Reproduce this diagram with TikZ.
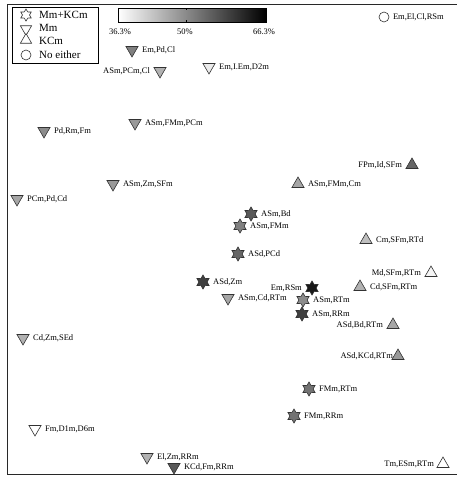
\documentclass[tikz,border=0pt]{standalone}
\usepackage{fontspec}
\setmainfont{Liberation Serif}
\usepackage{xcolor}
\usetikzlibrary{positioning, shapes.geometric}
\definecolor{framegray}{RGB}{40, 40, 40}
\definecolor{symbedge}{RGB}{50, 50, 50}

\tikzset{
  symb/.style={draw=symbedge, line width=0.6pt, inner sep=0pt},
  dntri/.style={symb, regular polygon, regular polygon sides=3, shape border rotate=180, minimum size=14pt},
  uptri/.style={symb, regular polygon, regular polygon sides=3, minimum size=14pt},
  hexstar/.style={symb, star, star points=6, star point ratio=1.7, minimum size=14pt},
  ring/.style={symb, circle, minimum size=10pt},
  lbl/.style={inner sep=0.5pt, font=\fontsize{8.5}{10}\selectfont},
  keytxt/.style={anchor=west, inner sep=0pt, font=\fontsize{11}{12}\selectfont},
}

\begin{document}
\begin{tikzpicture}[x=1pt, y=-1pt]
    \useasboundingbox (0,0) rectangle (457,482);
    % frame
    \draw[line width=1pt, framegray] (7,4) rectangle (459,474);
    % legend
    \draw[line width=0.8pt] (12,7) rectangle (98,63);
    \node[hexstar, fill=white, minimum size=12pt] (k1) at (26,15) {};
    \node[keytxt] (kt1) at (39,15) {Mm+KCm};
    \node[dntri, fill=white, minimum size=13pt] (k2) at (26,29) {};
    \node[keytxt] (kt2) at (39,28) {Mm};
    \node[uptri, fill=white, minimum size=13pt] (k3) at (26,40) {};
    \node[keytxt] (kt3) at (39,41) {KCm};
    \node[ring, fill=white] (k4) at (26,55) {};
    \node[keytxt] (kt4) at (39,55) {No either};
    % colour bar
    \shade[left color=white, right color=black] (118,8) rectangle (266,22);
    \draw[line width=0.6pt] (118,8) rectangle (266,22);
    \draw[line width=0.4pt] (186,8) -- (186,10) (186,22) -- (186,20);
    \node[lbl] (c1) at (120,32) {36.3\%};
    \node[lbl] (c2) at (185,32) {50\%};
    \node[lbl] (c3) at (264,32) {66.3\%};
    % points
    \node[dntri, fill=black!50] (p1) at (132,50) {};
    \node[lbl, right=5pt of p1] (t1) {Em,Pd,Cl};
    \node[dntri, fill=black!30] (p2) at (160,71) {};
    \node[lbl, left=5pt of p2] (t2) {ASm,PCm,Cl};
    \node[dntri, fill=black!8] (p3) at (209,67) {};
    \node[lbl, right=5pt of p3] (t3) {Em,I.Em,D2m};
    \node[ring, fill=white] (p4) at (384,17) {};
    \node[lbl, right=3pt of p4] (t4) {Em,El,Cl,RSm};
    \node[dntri, fill=black!45] (p5) at (44,131) {};
    \node[lbl, right=5pt of p5] (t5) {Pd,Rm,Fm};
    \node[dntri, fill=black!40] (p6) at (135,123) {};
    \node[lbl, right=5pt of p6] (t6) {ASm,FMm,PCm};
    \node[dntri, fill=black!40] (p7) at (113,184) {};
    \node[lbl, right=5pt of p7] (t7) {ASm,Zm,SFm};
    \node[dntri, fill=black!35] (p8) at (17,199) {};
    \node[lbl, right=5pt of p8] (t8) {PCm,Pd,Cd};
    \node[uptri, fill=black!60] (p9) at (412,165) {};
    \node[lbl, left=5pt of p9] (t9) {FPm,Id,SFm};
    \node[uptri, fill=black!35] (p10) at (298,184) {};
    \node[lbl, right=5pt of p10] (t10) {ASm,FMm,Cm};
    \node[hexstar, fill=black!65] (p11) at (251,214) {};
    \node[lbl, right=5pt of p11] (t11) {ASm,Bd};
    \node[hexstar, fill=black!50] (p12) at (240,226) {};
    \node[lbl, right=5pt of p12] (t12) {ASm,FMm};
    \node[hexstar, fill=black!60] (p13) at (238,254) {};
    \node[lbl, right=5pt of p13] (t13) {ASd,PCd};
    \node[uptri, fill=black!25] (p14) at (366,240) {};
    \node[lbl, right=5pt of p14] (t14) {Cm,SFm,RTd};
    \node[uptri, fill=black!4] (p15) at (431,273) {};
    \node[lbl, left=5pt of p15] (t15) {Md,SFm,RTm};
    \node[hexstar, fill=black!75] (p16) at (203,282) {};
    \node[lbl, right=5pt of p16] (t16) {ASd,Zm};
    \node[hexstar, fill=black!90] (p17) at (312,288) {};
    \node[lbl, left=5pt of p17] (t17) {Em,RSm};
    \node[uptri, fill=black!30] (p18) at (360,287) {};
    \node[lbl, right=5pt of p18] (t18) {Cd,SFm,RTm};
    \node[dntri, fill=black!35] (p19) at (228,298) {};
    \node[lbl, right=5pt of p19] (t19) {ASm,Cd,RTm};
    \node[hexstar, fill=black!45] (p20) at (303,300) {};
    \node[lbl, right=5pt of p20] (t20) {ASm,RTm};
    \node[hexstar, fill=black!75] (p21) at (302,314) {};
    \node[lbl, right=5pt of p21] (t21) {ASm,RRm};
    \node[uptri, fill=black!35] (p22) at (393,325) {};
    \node[lbl, left=5pt of p22] (t22) {ASd,Bd,RTm};
    \node[uptri, fill=black!40] (p23) at (398,356) {};
    \node[lbl, left=0pt of p23] (t23) {ASd,KCd,RTm};
    \node[dntri, fill=black!30] (p24) at (23,338) {};
    \node[lbl, right=5pt of p24] (t24) {Cd,Zm,SEd};
    \node[hexstar, fill=black!55] (p25) at (309,389) {};
    \node[lbl, right=5pt of p25] (t25) {FMm,RTm};
    \node[hexstar, fill=black!55] (p26) at (294,416) {};
    \node[lbl, right=5pt of p26] (t26) {FMm,RRm};
    \node[dntri, fill=white] (p27) at (35,429) {};
    \node[lbl, right=5pt of p27] (t27) {Fm,D1m,D6m};
    \node[dntri, fill=black!30] (p28) at (147,457) {};
    \node[lbl, right=5pt of p28] (t28) {El,Zm,RRm};
    \node[dntri, fill=black!65] (p29) at (174,467) {};
    \node[lbl, right=5pt of p29] (t29) {KCd,Fm,RRm};
    \node[uptri, fill=white] (p30) at (443,464) {};
    \node[lbl, left=4pt of p30] (t30) {Tm,ESm,RTm};
\end{tikzpicture}
\end{document}
